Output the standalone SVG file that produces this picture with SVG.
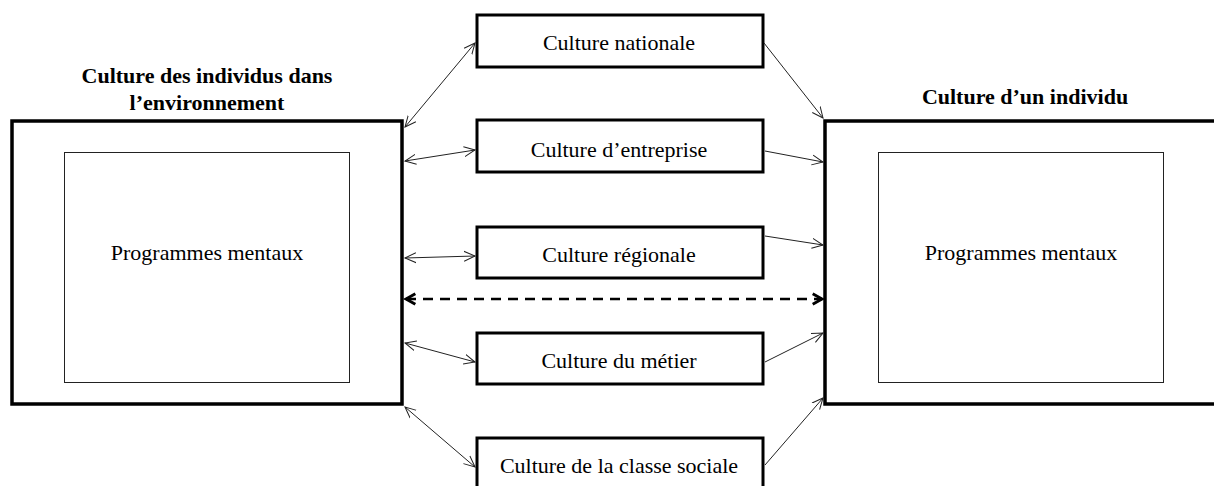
<svg xmlns="http://www.w3.org/2000/svg" width="1214" height="486" viewBox="0 0 1214 486">
<style>
text{font-family:"Liberation Serif","Times New Roman",serif;font-size:22px;fill:#000;text-anchor:middle}
.title{font-weight:bold}
.outer{fill:#fff;stroke:#000;stroke-width:3.5}
.inner{fill:#fff;stroke:#222;stroke-width:1}
.box{fill:#fff;stroke:#000;stroke-width:3}
.conn{fill:none;stroke:#222;stroke-width:1}
.dash{fill:none;stroke:#000;stroke-width:2.5;stroke-dasharray:10 7}
</style>
<defs>
<marker id="ah" markerUnits="userSpaceOnUse" markerWidth="14" markerHeight="14" refX="11" refY="5" orient="auto-start-reverse" viewBox="0 0 14 10">
<path d="M0,0 L11,5 L0,10" fill="none" stroke="#222" stroke-width="1"/>
</marker>
<marker id="ahd" markerUnits="userSpaceOnUse" markerWidth="14" markerHeight="14" refX="9" refY="5" orient="auto-start-reverse" viewBox="0 0 12 10">
<path d="M1,0.5 L9,5 L1,9.5" fill="none" stroke="#000" stroke-width="2.5" stroke-dasharray="none"/>
</marker>
</defs>
<g id="env">
<text class="title" x="207" y="83">Culture des individus dans</text>
<text class="title" x="207" y="110">l’environnement</text>
<rect class="outer" x="12" y="121" width="390" height="283"/>
<rect class="inner" x="64.5" y="152.5" width="285" height="230"/>
<text x="207" y="260">Programmes mentaux</text>
</g>
<g id="indiv">
<text class="title" x="1025" y="104">Culture d’un individu</text>
<rect class="outer" x="825" y="121" width="400" height="283"/>
<rect class="inner" x="878.5" y="152.5" width="285" height="230"/>
<text x="1021" y="260">Programmes mentaux</text>
</g>
<g id="nationale">
<rect class="box" x="477" y="15" width="286" height="52"/>
<text x="619" y="50">Culture nationale</text>
</g>
<g id="entreprise">
<rect class="box" x="477" y="120" width="286" height="52"/>
<text x="619" y="157">Culture d’entreprise</text>
</g>
<g id="regionale">
<rect class="box" x="477" y="227" width="286" height="51"/>
<text x="619" y="262">Culture régionale</text>
</g>
<g id="metier">
<rect class="box" x="477" y="333" width="286" height="51"/>
<text x="619" y="368">Culture du métier</text>
</g>
<g id="classe">
<rect class="box" x="477" y="438" width="286" height="60"/>
<text x="619" y="473">Culture de la classe sociale</text>
</g>
<g id="connectors">
<line class="conn" x1="405" y1="127" x2="475" y2="43" marker-start="url(#ah)" marker-end="url(#ah)"/>
<line class="conn" x1="764" y1="43" x2="823" y2="118" marker-end="url(#ah)"/>
<line class="conn" x1="405" y1="161" x2="475" y2="150" marker-start="url(#ah)" marker-end="url(#ah)"/>
<line class="conn" x1="765" y1="151" x2="823" y2="162" marker-end="url(#ah)"/>
<line class="conn" x1="405" y1="258" x2="475" y2="256" marker-start="url(#ah)" marker-end="url(#ah)"/>
<line class="conn" x1="765" y1="236" x2="823" y2="245" marker-end="url(#ah)"/>
<line class="dash" x1="406" y1="299" x2="822" y2="299" marker-start="url(#ahd)" marker-end="url(#ahd)"/>
<line class="conn" x1="405" y1="343" x2="475" y2="362" marker-start="url(#ah)" marker-end="url(#ah)"/>
<line class="conn" x1="765" y1="362" x2="823" y2="333" marker-end="url(#ah)"/>
<line class="conn" x1="405" y1="407" x2="475" y2="467" marker-start="url(#ah)" marker-end="url(#ah)"/>
<line class="conn" x1="765" y1="465" x2="823" y2="398" marker-end="url(#ah)"/>
</g>
</svg>
